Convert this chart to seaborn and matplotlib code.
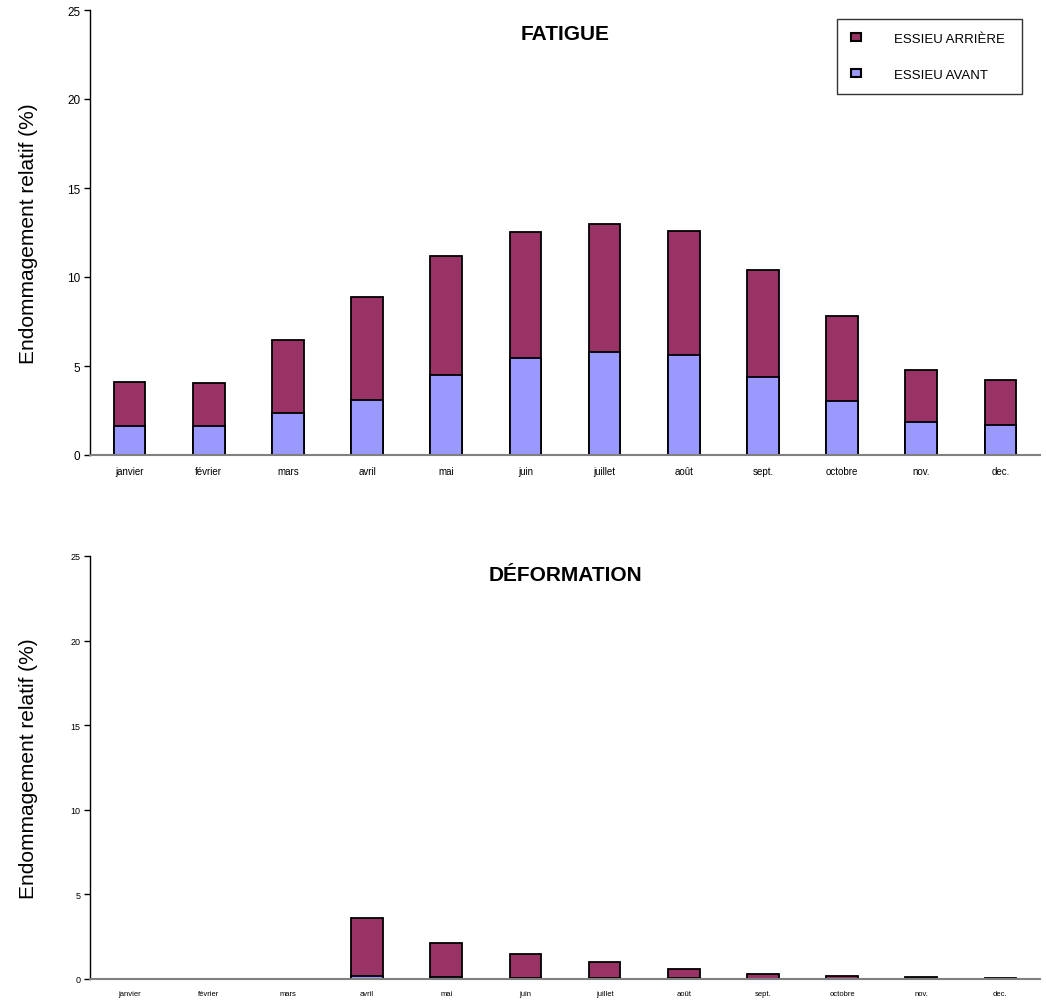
import matplotlib
matplotlib.use("Agg")
import matplotlib.pyplot as plt
from matplotlib.patches import Patch
import seaborn as sns
import pandas as pd

mois = ["janvier", "février", "mars", "avril", "mai", "juin", "juillet",
        "août", "sept.", "octobre", "nov.", "dec."]

# FATIGUE
fatigue_avant = [1.63, 1.63, 2.34, 3.11, 4.49, 5.43, 5.81, 5.62, 4.40, 3.05, 1.84, 1.69]
fatigue_arriere = [2.47, 2.41, 4.10, 5.75, 6.69, 7.10, 7.19, 6.95, 5.97, 4.74, 2.94, 2.54]

# DÉFORMATION
deform_avant = [0, 0, 0, 0.18, 0.10, 0.07, 0.05, 0.03, 0.02, 0.01, 0.005, 0]
deform_arriere = [0, 0, 0, 3.41, 2.03, 1.41, 0.97, 0.54, 0.28, 0.15, 0.095, 0.04]

yticks = [0, 5, 10, 15, 20, 25]
ylabel = "Endommagement relatif (%)"
legend_labels = ["ESSIEU ARRIÈRE", "ESSIEU AVANT"]

c_arr = "#993366"
c_av = "#9999FF"

sns.set_style("white")
plt.rcParams['font.family'] = ['Liberation Sans', 'DejaVu Sans']
plt.rcParams['text.color'] = 'black'
plt.rcParams['axes.labelcolor'] = 'black'
plt.rcParams['xtick.color'] = 'black'
plt.rcParams['ytick.color'] = 'black'

fig = plt.figure(figsize=(10.46, 10.03), dpi=100)
W, H = 1046, 1003
ax1 = fig.add_axes([90 / W, (H - 456) / H, 950 / W, 445 / H])
ax2 = fig.add_axes([90 / W, (H - 980) / H, 950 / W, 423 / H])


def draw(ax, avant, arriere, title, tick_fs, xtick_fs, title_y):
    df = pd.DataFrame({"mois": mois, "avant": avant, "arriere": arriere})
    df["total"] = df["avant"] + df["arriere"]
    sns.barplot(data=df, x="mois", y="total", order=mois, color=c_arr,
                saturation=1, width=0.4, edgecolor="black", linewidth=1.3, ax=ax)
    sns.barplot(data=df, x="mois", y="avant", order=mois, color=c_av,
                saturation=1, width=0.4, edgecolor="black", linewidth=1.3, ax=ax)
    ax.set_xlim(-0.5, len(mois) - 0.5)
    ax.set_ylim(0, 25)
    ax.set_yticks(yticks)
    ax.set_yticklabels([str(t) for t in yticks], fontsize=tick_fs)
    ax.set_xticks(range(len(mois)))
    ax.set_xticklabels(mois, fontsize=xtick_fs)
    ax.set_xticks([i - 0.5 for i in range(len(mois) + 1)], minor=True)
    ax.tick_params(axis="x", which="major", length=0, pad=8)
    ax.tick_params(axis="x", which="minor", length=4, width=1, color="#555555", direction="out")
    ax.tick_params(axis="y", length=4, width=1, color="black", direction="out", pad=3, left=True)
    ax.set_xlabel("")
    ax.set_ylabel(ylabel, fontsize=15)
    ax.yaxis.set_label_coords(-0.055, 0.5)
    for s in ["top", "right"]:
        ax.spines[s].set_visible(False)
    ax.spines["left"].set_color("black")
    ax.spines["left"].set_linewidth(1)
    ax.spines["bottom"].set_color("#808080")
    ax.spines["bottom"].set_linewidth(1.5)
    ax.text(0.5, title_y, title, transform=ax.transAxes, ha="center", va="center",
            fontsize=15, fontweight="bold")
    ax.set_facecolor("white")


draw(ax1, fatigue_avant, fatigue_arriere, "FATIGUE", 8.5, 7, 0.948)
draw(ax2, deform_avant, deform_arriere, "DÉFORMATION", 6.5, 5.5, 0.957)

handles = [Patch(facecolor=c_arr, edgecolor="black", linewidth=1.5),
           Patch(facecolor=c_av, edgecolor="black", linewidth=1.5)]
leg = fig.legend(handles, legend_labels, loc="upper left", mode="expand",
                 bbox_to_anchor=(837 / W, 1 - 93 / H, 185 / W, 73 / H),
                 bbox_transform=fig.transFigure,
                 fontsize=9.5, frameon=True, fancybox=False, shadow=False,
                 handlelength=0.75, handleheight=0.55, handletextpad=2.55,
                 labelspacing=1.8, borderpad=1.05, borderaxespad=0)
leg.get_frame().set_edgecolor("black")
leg.get_frame().set_linewidth(1)

fig.savefig("out.png", dpi=100, facecolor="white")
